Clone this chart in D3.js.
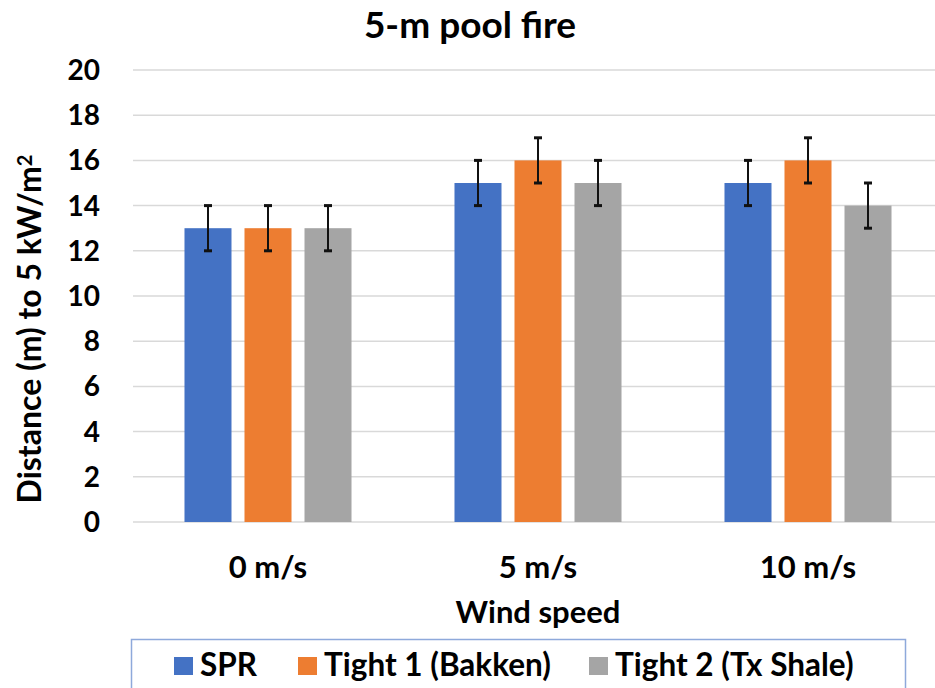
<!DOCTYPE html>
<html>
<head>
<meta charset="utf-8">
<script src="https://cdn.jsdelivr.net/npm/d3@7"></script>
<style>
  body { margin: 0; background: #fff; }
  text { font-family: Lato, "Open Sans", sans-serif; font-weight: bold; fill: #000; }
</style>
</head>
<body>
<svg id="chart" width="935" height="688"></svg>
<script>
// chart data
const categories = ['0 m/s', '5 m/s', '10 m/s'];
const seriesNames = ['SPR', 'Tight 1 (Bakken)', 'Tight 2 (Tx Shale)'];
const seriesColors = ['#4472C4', '#ED7D31', '#A5A5A5'];
const sprValues = [13, 15, 15];
const bakkenValues = [13, 16, 16];
const shaleValues = [13, 15, 14];
const errorValue = 1;
const yTicks = [0, 2, 4, 6, 8, 10, 12, 14, 16, 18, 20];

const seriesValues = [sprValues, bakkenValues, shaleValues];

const svg = d3.select('#chart');
const plot = { left: 133, right: 943, top: 70, bottom: 522 };

const x = d3.scaleBand().domain(categories).range([plot.left, plot.right]);
// three bars of ~47px with 13px gaps centred in each 270px band
const xInner = d3.scaleBand().domain(d3.range(seriesNames.length))
  .range([0, x.bandwidth()]).paddingInner(13 / 60).paddingOuter(0.858);
const y = d3.scaleLinear().domain([0, 20]).range([plot.bottom, plot.top]);

// gridlines
svg.append('g').selectAll('line').data(yTicks).join('line')
  .attr('x1', plot.left).attr('x2', 935)
  .attr('y1', d => y(d)).attr('y2', d => y(d))
  .attr('stroke', '#D9D9D9').attr('stroke-width', 1.5);

// y tick labels
svg.append('g').selectAll('text').data(yTicks).join('text')
  .attr('x', 100).attr('y', d => y(d) + 10)
  .attr('text-anchor', 'end').style('font-size', '28px')
  .text(d => d);

// bars
const rows = [];
seriesValues.forEach((vals, s) => vals.forEach((v, c) => rows.push({ s, c, v })));

svg.append('g').selectAll('rect').data(rows).join('rect')
  .attr('x', d => x(categories[d.c]) + xInner(d.s))
  .attr('width', xInner.bandwidth())
  .attr('y', d => y(d.v))
  .attr('height', d => y(0) - y(d.v))
  .attr('fill', d => seriesColors[d.s]);

// error bars
const eb = svg.append('g').attr('stroke', '#111').attr('stroke-width', 2);
rows.forEach(d => {
  const cx = x(categories[d.c]) + xInner(d.s) + xInner.bandwidth() / 2;
  eb.append('line').attr('x1', cx).attr('x2', cx).attr('y1', y(d.v - errorValue)).attr('y2', y(d.v + errorValue));
  [d.v - errorValue, d.v + errorValue].forEach(t => {
    eb.append('line').attr('x1', cx - 4).attr('x2', cx + 4).attr('y1', y(t)).attr('y2', y(t))
      .attr('stroke-width', 3);
  });
});

// x category labels
svg.append('g').selectAll('text').data(categories).join('text')
  .attr('x', d => x(d) + x.bandwidth() / 2).attr('y', 578)
  .attr('text-anchor', 'middle').style('font-size', '31px')
  .text(d => d);

// title
svg.append('text').attr('x', 470).attr('y', 38)
  .attr('text-anchor', 'middle').style('font-size', '37px').text('5-m pool fire');

// axis titles
svg.append('text').attr('x', 538).attr('y', 623)
  .attr('text-anchor', 'middle').style('font-size', '31px').text('Wind speed');

const yTitle = svg.append('text')
  .attr('transform', 'translate(41,329) rotate(-90)')
  .attr('text-anchor', 'middle').style('font-size', '32px');
yTitle.append('tspan').text('Distance (m) to 5 kW/m');
yTitle.append('tspan').attr('dy', '-0.45em').style('font-size', '20px').text('2');

// legend
svg.append('rect').attr('x', 131.5).attr('y', 639.5).attr('width', 774).attr('height', 60)
  .attr('fill', 'none').attr('stroke', '#8EA9DB').attr('stroke-width', 1.5);

const legendX = [174, 298, 589];
const legend = svg.append('g').selectAll('g').data(seriesNames).join('g')
  .attr('transform', (d, i) => 'translate(' + legendX[i] + ',666)');
legend.append('rect').attr('x', 0).attr('y', -9).attr('width', 19).attr('height', 18)
  .attr('fill', (d, i) => seriesColors[i]);
legend.append('text').attr('x', 26).attr('y', 10).style('font-size', '31.5px').text(d => d);
</script>
</body>
</html>
